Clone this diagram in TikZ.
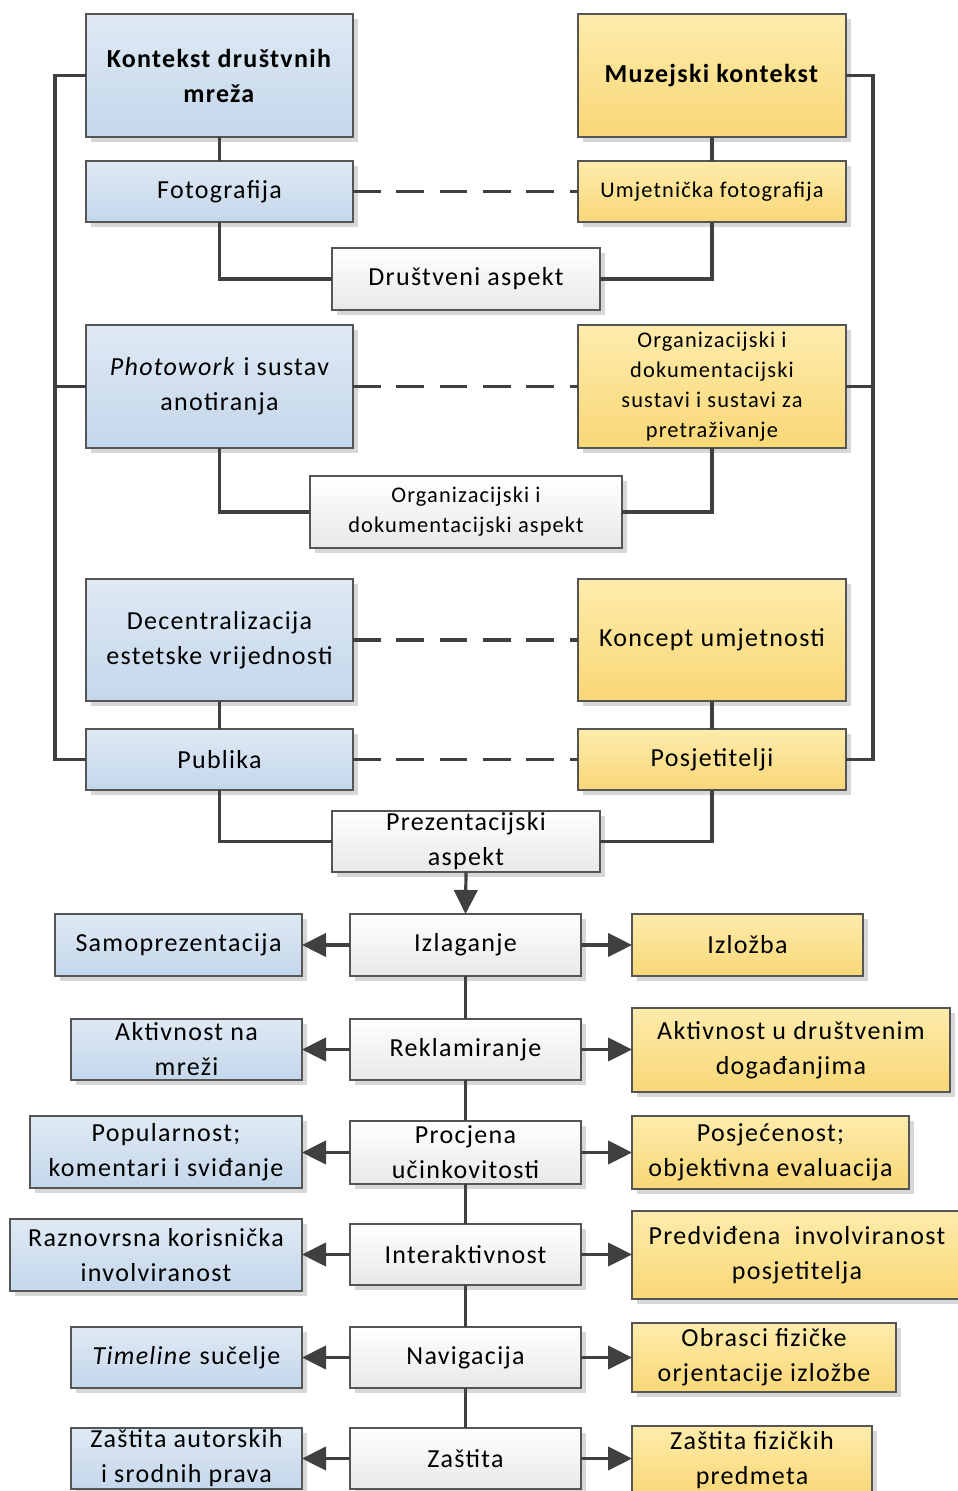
\documentclass[tikz,border=0pt]{standalone}
\usepackage{fontspec}
\setmainfont[LetterSpace=5.0]{Carlito}
\usetikzlibrary{arrows.meta,shadows}
\definecolor{blueT}{RGB}{223,233,244}
\definecolor{blueB}{RGB}{196,215,235}
\definecolor{yelT}{RGB}{254,236,172}
\definecolor{yelB}{RGB}{248,215,118}
\definecolor{gryB}{RGB}{232,232,232}
\definecolor{bordc}{RGB}{85,85,85}
\definecolor{lc}{RGB}{64,64,64}
\definecolor{shadc}{RGB}{215,215,215}
\tikzset{
  box/.style={draw=bordc, line width=1.1pt, inner sep=0pt, outer sep=0pt,
    drop shadow={shadow xshift=3.5pt, shadow yshift=-3.5pt, fill=shadc, opacity=1}},
  bluebox/.style={box, top color=blueT, bottom color=blueB},
  yelbox/.style={box, top color=yelT, bottom color=yelB},
  grybox/.style={box, top color=white, bottom color=gryB},
  txt/.style={align=center, inner sep=0pt, font=\fontsize{19.5}{26.25}\selectfont},
  stxt/.style={align=center, inner sep=0pt, font=\fontsize{16.8}{22.5}\selectfont},
  conn/.style={draw=lc, line width=2.4pt},
  dsh/.style={conn, dash pattern=on 20.8pt off 11.7pt},
  arr/.style={conn, -{Triangle[length=18pt,width=17.5pt]}}
}
\newcommand\bx[8]{%
  \node[#6, minimum width={(#4-#2)*0.75pt}, minimum height={(#5-#3)*0.75pt}] (#1) at ({(#2+#4)/2},{(#3+#5)/2}) {};
  \node[#7] (#1-txt) at (#1.center) {#8};}
\begin{document}
\begin{tikzpicture}[x=0.75pt,y=-0.75pt]
\useasboundingbox (0,0) rectangle (957,1491);
% top left
\bx{kont}{86}{14}{353}{137}{bluebox}{txt}{\textbf{Kontekst društvnih}\\\textbf{mreža}}
\bx{foto}{86}{161}{353}{222}{bluebox}{txt}{Fotografija}
\bx{phot}{86}{325}{353}{448}{bluebox}{txt}{\textit{Photowork} i sustav\\anotiranja}
\bx{dec}{86}{579}{353}{701}{bluebox}{txt}{Decentralizacija\\estetske vrijednosti}
\bx{pub}{86}{729}{353}{790}{bluebox}{txt}{Publika}
% top right
\bx{muz}{578}{14}{846}{137}{yelbox}{txt}{\textbf{Muzejski kontekst}}
\bx{umj}{578}{161}{846}{222}{yelbox}{stxt}{Umjetnička fotografija}
\bx{orgs}{578}{325}{846}{448}{yelbox}{stxt}{Organizacijski i\\dokumentacijski\\sustavi i sustavi za\\pretraživanje}
\bx{konc}{578}{579}{846}{701}{yelbox}{txt}{Koncept umjetnosti}
\bx{pos}{578}{729}{846}{790}{yelbox}{txt}{Posjetitelji}
% middle
\bx{dru}{332}{248}{600}{310}{grybox}{txt}{Društveni aspekt}
\bx{orga}{310}{476}{622}{548}{grybox}{stxt}{Organizacijski i\\dokumentacijski aspekt}
\bx{prez}{332}{811}{600}{872}{grybox}{txt}{Prezentacijski\\aspekt}
% bottom centre
\bx{izl}{350}{914}{581}{976}{grybox}{txt}{Izlaganje}
\bx{rek}{350}{1019}{581}{1080}{grybox}{txt}{Reklamiranje}
\bx{proc}{350}{1121}{581}{1184}{grybox}{txt}{Procjena\\učinkovitosti}
\bx{inter}{350}{1224}{581}{1285}{grybox}{txt}{Interaktivnost}
\bx{nav}{350}{1327}{581}{1388}{grybox}{txt}{Navigacija}
\bx{zas}{350}{1428}{581}{1489}{grybox}{txt}{Zaštita}
% bottom left
\bx{samo}{55}{914}{302}{976}{bluebox}{txt}{Samoprezentacija}
\bx{akm}{71}{1019}{302}{1080}{bluebox}{txt}{Aktivnost na\\mreži}
\bx{pop}{30}{1116}{302}{1188}{bluebox}{txt}{Popularnost;\\komentari i sviđanje}
\bx{raz}{10}{1219}{302}{1291}{bluebox}{txt}{Raznovrsna korisnička\\involviranost}
\bx{tim}{71}{1327}{302}{1388}{bluebox}{txt}{\textit{Timeline} sučelje}
\bx{zaa}{71}{1428}{302}{1489}{bluebox}{txt}{Zaštita autorskih\\i srodnih prava}
% bottom right
\bx{izb}{632}{914}{863}{976}{yelbox}{txt}{Izložba}
\bx{akd}{632}{1008}{950}{1092}{yelbox}{txt}{Aktivnost u društvenim\\događanjima}
\bx{posj}{632}{1116}{909}{1189}{yelbox}{txt}{Posjećenost;\\objektivna evaluacija}
\bx{pred}{632}{1211}{962}{1299}{yelbox}{txt}{Predviđena\ \ involviranost\\posjetitelja}
\bx{obr}{632}{1323}{896}{1392}{yelbox}{txt}{Obrasci fizičke\\orjentacije izložbe}
\bx{zfp}{632}{1426}{872}{1495}{yelbox}{txt}{Zaštita fizičkih\\predmeta}
% connectors, top
\coordinate (L) at (55,0);
\coordinate (R) at (873,0);
\draw[conn] (kont.west) -- (kont.west -| L) -- (pub.west -| L) -- (pub.west);
\draw[conn] (phot.west) -- (phot.west -| L);
\draw[conn] (muz.east) -- (muz.east -| R) -- (pos.east -| R) -- (pos.east);
\draw[conn] (orgs.east) -- (orgs.east -| R);
\draw[conn] (kont.south) -- (foto.north);
\draw[conn] (muz.south) -- (umj.north);
\draw[conn] (foto.south) |- (dru.west);
\draw[conn] (umj.south) |- (dru.east);
\draw[dsh] (foto.east) -- (umj.west);
\draw[dsh] (phot.east) -- (orgs.west);
\draw[conn] (phot.south) |- (orga.west);
\draw[conn] (orgs.south) |- (orga.east);
\draw[dsh] (dec.east) -- (konc.west);
\draw[conn] (dec.south) -- (pub.north);
\draw[conn] (konc.south) -- (pos.north);
\draw[dsh] (pub.east) -- (pos.west);
\draw[conn] (pub.south) |- (prez.west);
\draw[conn] (pos.south) |- (prez.east);
\draw[arr] (prez.south) -- (izl.north);
% connectors, bottom
\draw[conn] (izl.south) -- (rek.north);
\draw[conn] (rek.south) -- (proc.north);
\draw[conn] (proc.south) -- (inter.north);
\draw[conn] (inter.south) -- (nav.north);
\draw[conn] (nav.south) -- (zas.north);
\draw[arr] (izl.west) -- (izl.west -| samo.east);
\draw[arr] (rek.west) -- (rek.west -| akm.east);
\draw[arr] (proc.west) -- (proc.west -| pop.east);
\draw[arr] (inter.west) -- (inter.west -| raz.east);
\draw[arr] (nav.west) -- (nav.west -| tim.east);
\draw[arr] (zas.west) -- (zas.west -| zaa.east);
\draw[arr] (izl.east) -- (izl.east -| izb.west);
\draw[arr] (rek.east) -- (rek.east -| akd.west);
\draw[arr] (proc.east) -- (proc.east -| posj.west);
\draw[arr] (inter.east) -- (inter.east -| pred.west);
\draw[arr] (nav.east) -- (nav.east -| obr.west);
\draw[arr] (zas.east) -- (zas.east -| zfp.west);
\end{tikzpicture}
\end{document}
